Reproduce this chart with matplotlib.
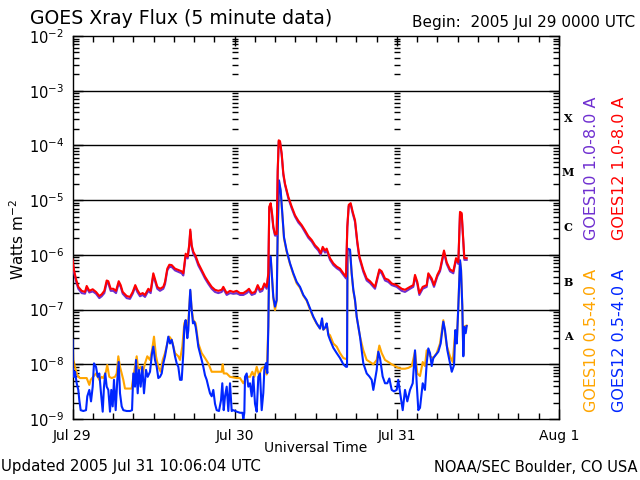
import matplotlib
matplotlib.use("Agg")
import matplotlib.pyplot as plt
import matplotlib.transforms as mtransforms
from matplotlib.ticker import FixedLocator, FixedFormatter, NullFormatter
import numpy as np

# ---------------- data (hours since 2005 Jul 29 00:00 UTC) ----------------
long_hours = [0.00, 0.22, 0.52, 0.86, 1.36, 1.85, 2.10, 2.49, 2.99, 3.48, 3.97, 4.32, 4.71, 5.06, 5.30,
              5.65, 6.04, 6.44, 6.84, 7.13, 7.43, 8.02, 8.51, 8.91, 9.29, 9.59, 9.99, 10.39, 10.73, 11.22,
              11.57, 11.96, 12.25, 12.55, 12.95, 13.44, 13.69, 14.03, 14.33, 14.68, 15.17, 15.66, 16.16,
              16.40, 16.75, 17.05, 17.29, 17.43, 17.64, 17.88, 18.23, 18.62, 19.12, 19.61, 20.10, 20.60,
              21.09, 21.58, 22.08, 22.32, 22.82, 23.31, 23.80, 24.30, 24.79, 25.28, 25.78, 26.12, 26.52,
              27.01, 27.41, 27.75, 28.09, 28.39, 28.74, 28.98, 29.12, 29.33, 29.53, 29.72, 29.97, 30.22,
              30.37, 30.52, 30.71, 30.96, 31.20, 31.45, 31.94, 32.44, 32.93, 33.42, 33.92, 34.41, 34.90,
              35.40, 35.89, 36.38, 36.73, 37.03, 37.37, 37.62, 38.11, 38.60, 39.10, 39.59, 40.08, 40.48,
              40.67, 40.88, 41.17, 41.47, 41.81, 42.15, 42.45, 43.04, 43.54, 44.03, 44.77, 45.41, 45.76,
              46.25, 46.74, 47.24, 47.98, 48.72, 49.21, 49.95, 50.44, 50.69, 51.03, 51.33, 51.83, 52.42,
              52.66, 53.16, 53.50, 53.99, 54.39, 54.98, 55.38, 55.87, 56.36, 56.76, 57.10, 57.35, 57.60,
              57.84, 57.99, 58.34]

goes12_long = [8.3e-7, 5.3e-7, 3.6e-7, 2.6e-7, 2.2e-7, 2.1e-7, 2.7e-7, 2.2e-7, 2.35e-7, 2.1e-7, 1.77e-7,
               1.9e-7, 2.2e-7, 3.4e-7, 3.3e-7, 2.4e-7, 2.4e-7, 2.2e-7, 3.3e-7, 2.8e-7, 2.1e-7, 1.77e-7,
               1.7e-7, 2.1e-7, 2.8e-7, 2.3e-7, 1.9e-7, 2.0e-7, 1.85e-7, 2.4e-7, 2.2e-7, 4.6e-7, 3.5e-7,
               2.6e-7, 2.4e-7, 2.6e-7, 3.2e-7, 5.6e-7, 6.6e-7, 6.5e-7, 5.6e-7, 5.3e-7, 5.0e-7, 4.6e-7,
               1.05e-6, 9.3e-7, 1.6e-6, 2.9e-6, 1.5e-6, 1.14e-6, 9.5e-7, 7.0e-7, 5.3e-7, 4.0e-7, 3.2e-7,
               2.6e-7, 2.3e-7, 2.2e-7, 2.3e-7, 2.6e-7, 2.0e-7, 2.2e-7, 2.1e-7, 2.2e-7, 2.0e-7, 2.0e-7,
               2.2e-7, 2.4e-7, 2.0e-7, 2.1e-7, 2.8e-7, 2.3e-7, 2.4e-7, 3.0e-7, 2.6e-7, 4.6e-7, 7.6e-6,
               8.8e-6, 5.8e-6, 3.3e-6, 2.4e-6, 2.4e-6, 3.5e-5, 1.24e-4, 1.2e-4, 7.1e-5, 3.1e-5, 2.0e-5,
               1.15e-5, 7.6e-6, 5.3e-6, 4.2e-6, 3.5e-6, 2.8e-6, 2.2e-6, 1.87e-6, 1.5e-6, 1.3e-6, 1.07e-6,
               1.4e-6, 1.2e-6, 1.3e-6, 8.7e-7, 7.0e-7, 6.1e-7, 5.6e-7, 4.6e-7, 4.0e-7, 3.3e-6, 8.2e-6,
               8.8e-6, 6.1e-6, 4.3e-6, 1.75e-6, 9.5e-7, 5.3e-7, 3.7e-7, 3.3e-7, 2.6e-7, 5.4e-7, 5.0e-7,
               3.7e-7, 3.5e-7, 3.0e-7, 2.8e-7, 2.4e-7, 2.3e-7, 2.6e-7, 2.8e-7, 4.3e-7, 3.2e-7, 2.0e-7,
               2.6e-7, 2.8e-7, 4.6e-7, 3.7e-7, 2.8e-7, 4.3e-7, 5.4e-7, 1.2e-6, 7.3e-7, 5.4e-7, 5.0e-7,
               8.7e-7, 7.3e-7, 6.1e-6, 5.8e-6, 1.87e-6, 8.7e-7, 8.7e-7]

goes10_long = [7.7e-7, 4.9e-7, 3.3e-7, 2.4e-7, 2.0e-7, 1.95e-7, 2.5e-7, 2.05e-7, 2.15e-7, 1.95e-7, 1.62e-7,
               1.75e-7, 2.0e-7, 3.1e-7, 3.0e-7, 2.2e-7, 2.2e-7, 2.0e-7, 3.0e-7, 2.6e-7, 1.95e-7, 1.62e-7,
               1.57e-7, 1.95e-7, 2.6e-7, 2.1e-7, 1.75e-7, 1.85e-7, 1.7e-7, 2.2e-7, 2.0e-7, 4.2e-7, 3.2e-7,
               2.4e-7, 2.2e-7, 2.4e-7, 2.9e-7, 5.2e-7, 6.0e-7, 6.0e-7, 5.2e-7, 4.9e-7, 4.6e-7, 4.2e-7,
               9.6e-7, 8.6e-7, 1.5e-6, 2.7e-6, 1.4e-6, 1.05e-6, 8.8e-7, 6.4e-7, 4.9e-7, 3.7e-7, 2.95e-7,
               2.4e-7, 2.1e-7, 2.0e-7, 2.1e-7, 2.4e-7, 1.85e-7, 2.0e-7, 1.95e-7, 2.0e-7, 1.85e-7, 1.85e-7,
               2.0e-7, 2.2e-7, 1.85e-7, 1.95e-7, 2.6e-7, 2.1e-7, 2.2e-7, 2.8e-7, 2.4e-7, 4.3e-7, 7.2e-6,
               8.3e-6, 5.4e-6, 3.1e-6, 2.25e-6, 2.25e-6, 3.3e-5, 1.18e-4, 1.14e-4, 6.7e-5, 2.9e-5, 1.9e-5,
               1.08e-5, 7.1e-6, 5.0e-6, 3.9e-6, 3.3e-6, 2.6e-6, 2.05e-6, 1.75e-6, 1.4e-6, 1.2e-6, 1.0e-6,
               1.3e-6, 1.1e-6, 1.2e-6, 8.1e-7, 6.5e-7, 5.7e-7, 5.2e-7, 4.3e-7, 3.7e-7, 3.1e-6, 7.7e-6,
               8.3e-6, 5.7e-6, 4.0e-6, 1.63e-6, 8.8e-7, 4.9e-7, 3.4e-7, 3.05e-7, 2.4e-7, 5.0e-7, 4.6e-7,
               3.4e-7, 3.2e-7, 2.8e-7, 2.6e-7, 2.2e-7, 2.1e-7, 2.4e-7, 2.6e-7, 4.0e-7, 2.95e-7, 1.85e-7,
               2.4e-7, 2.6e-7, 4.3e-7, 3.4e-7, 2.6e-7, 4.0e-7, 5.0e-7, 1.1e-6, 6.8e-7, 5.0e-7, 4.6e-7,
               8.1e-7, 6.8e-7, 5.7e-6, 5.4e-6, 1.74e-6, 8.1e-7, 8.1e-7]

goes12_short_hours = [0.00, 0.03, 0.22, 0.37, 0.62, 0.86, 1.01, 1.21, 1.60, 2.00, 2.19, 2.49, 2.74, 2.99,
                      3.18, 3.48, 3.73, 3.97, 4.22, 4.47, 4.66, 4.85, 5.06, 5.30, 5.55, 5.74, 5.95, 6.14,
                      6.39, 6.63, 6.84, 7.03, 7.28, 7.52, 8.02, 8.51, 8.81, 9.00, 9.25, 9.40, 9.65, 9.84,
                      10.09, 10.33, 10.58, 10.88, 11.13, 11.47, 11.77, 11.96, 12.21, 12.46, 12.70, 12.95,
                      13.20, 13.44, 13.69, 13.94, 14.18, 14.43, 14.68, 14.92, 15.17, 15.42, 15.66, 15.91,
                      16.16, 16.40, 16.55, 16.75, 16.99, 17.14, 17.29, 17.43, 17.64, 17.83, 18.03, 18.23,
                      18.43, 18.62, 18.87, 19.12, 19.36, 19.61, 19.86, 20.10, 20.35, 20.60, 20.84, 21.09,
                      21.34, 21.68, 21.98, 22.17, 22.38, 22.57, 22.82, 23.06, 23.31, 23.56, 23.80, 24.30,
                      24.79, 25.16, 25.28, 25.43, 25.53, 25.78, 26.02, 26.27, 26.52, 26.76, 27.01, 27.26,
                      27.50, 27.75, 28.00, 28.24, 28.39, 28.64, 28.83, 28.98, 29.12, 29.33, 29.53, 29.72,
                      29.97, 30.22, 30.37, 30.56, 30.81, 31.05, 31.30, 31.69, 32.19, 32.68, 33.18, 33.67,
                      34.16, 34.66, 35.15, 35.64, 36.14, 36.63, 36.93, 37.12, 37.42, 37.62, 37.86, 38.11,
                      38.60, 39.10, 39.59, 40.08, 40.48, 40.63, 40.70, 41.07, 41.32, 41.56, 41.81, 42.06,
                      42.55, 43.04, 43.54, 43.93, 44.28, 44.52, 45.02, 45.26, 45.51, 45.90, 46.25, 46.59,
                      46.89, 47.24, 47.58, 47.98, 48.21, 48.47, 48.87, 49.21, 49.55, 49.95, 50.35, 50.69,
                      50.94, 51.18, 51.43, 51.83, 52.16, 52.42, 52.66, 52.91, 53.16, 53.40, 53.80, 54.14,
                      54.49, 54.88, 55.13, 55.48, 55.77, 56.13, 56.47, 56.66, 56.87, 57.10, 57.35, 57.50,
                      57.69, 57.84, 57.99, 58.19, 58.34]

goes12_short = [2.8e-8, 9e-9, 5.9e-9, 7.3e-9, 4.5e-9, 3.4e-9, 2.2e-9, 1.45e-9, 1.4e-9, 1.45e-9, 2.6e-9,
                3.4e-9, 2.1e-9, 3.9e-9, 1.04e-8, 9e-9, 5.9e-9, 6.8e-9, 2.95e-9, 1.36e-9, 3.9e-9, 6.8e-9,
                3.9e-9, 3.4e-9, 1.36e-9, 3.4e-9, 1.7e-9, 5.2e-9, 1.45e-9, 5.2e-9, 1.1e-8, 2.95e-9, 1.7e-9,
                1.45e-9, 1.4e-9, 1.4e-9, 1.45e-9, 6.8e-9, 3.9e-9, 1.2e-8, 2.95e-9, 7.9e-9, 3.9e-9, 9e-9,
                2.95e-9, 7.9e-9, 5.9e-9, 7.3e-9, 1.6e-8, 2.1e-8, 1.2e-8, 9e-9, 5.6e-9, 5.9e-9, 6.8e-9,
                1.04e-8, 1.4e-8, 2.1e-8, 3.2e-8, 2.4e-8, 2.8e-8, 2.1e-8, 1.4e-8, 1.04e-8, 9e-9, 5.2e-9,
                5.2e-9, 1.6e-8, 4.8e-8, 6.4e-8, 3.0e-8, 4.2e-8, 1.13e-7, 2.3e-7, 9.8e-8, 5.6e-8, 6.0e-8,
                4.8e-8, 3.2e-8, 2.1e-8, 1.6e-8, 1.2e-8, 9e-9, 6.3e-9, 5.2e-9, 3.9e-9, 2.95e-9, 2.6e-9,
                3.4e-9, 1.9e-9, 1.45e-9, 1.4e-9, 2.2e-9, 4.5e-9, 1.45e-9, 2.6e-9, 3.9e-9, 1.4e-9, 4.5e-9,
                1.4e-9, 1.45e-9, 1.36e-9, 1.3e-9, 1.3e-9, 1.0e-9, 1.3e-9, 5.9e-9, 6.8e-9, 3.9e-9, 4.5e-9,
                2.6e-9, 5.9e-9, 1.9e-9, 1.36e-9, 5.9e-9, 6.8e-9, 1.45e-9, 3.0e-9, 7.9e-9, 1.05e-8, 6.9e-9,
                4.8e-8, 9.3e-7, 9.3e-7, 4.0e-7, 1.7e-7, 1.13e-7, 1.5e-7, 2.8e-6, 2.3e-5, 1.5e-5, 5.8e-6,
                2.1e-6, 1.2e-6, 7.0e-7, 4.6e-7, 3.2e-7, 2.6e-7, 1.85e-7, 1.5e-7, 1.05e-7, 7.4e-8, 5.6e-8,
                4.5e-8, 6.9e-8, 4.3e-8, 4.8e-8, 5.6e-8, 3.4e-8, 2.8e-8, 2.0e-8, 1.6e-8, 1.3e-8, 1.0e-8,
                9e-9, 9e-9, 1.3e-6, 1.25e-6, 4.6e-7, 2.3e-7, 1.5e-7, 7.4e-8, 3.2e-8, 1.04e-8, 6.8e-9,
                6.0e-9, 5.2e-9, 3.4e-9, 7.9e-9, 1.7e-8, 1.3e-8, 6.0e-9, 4.5e-9, 4.5e-9, 5.5e-9, 3.4e-9,
                3.2e-9, 3.4e-9, 5.2e-9, 3.1e-9, 1.45e-9, 3.4e-9, 2.1e-9, 3.4e-9, 4.5e-9, 1.8e-8, 4.5e-9,
                1.45e-9, 1.6e-9, 4.5e-9, 3.4e-9, 1.04e-8, 1.95e-8, 1.6e-8, 9.3e-9, 1.3e-8, 1.5e-8, 1.7e-8,
                2.4e-8, 6.0e-8, 4.2e-8, 1.8e-8, 1.2e-8, 7.3e-9, 9.7e-9, 4.2e-8, 2.4e-8, 1.13e-7, 8.0e-7,
                5.3e-7, 1.13e-7, 1.4e-8, 4.8e-8, 3.7e-8, 5.0e-8]

goes10_short_hours = [0.00, 0.12, 0.37, 0.62, 0.86, 1.11, 2.10, 2.49, 2.69, 3.07, 3.48, 3.97, 4.32, 4.55,
                      4.95, 5.14, 5.44, 5.80, 6.29, 6.54, 6.78, 7.03, 7.28, 7.52, 7.77, 8.26, 8.76, 9.00,
                      9.25, 9.50, 9.74, 10.09, 10.39, 10.73, 11.07, 11.47, 11.77, 12.06, 12.36, 12.70,
                      13.05, 13.35, 13.69, 14.03, 14.33, 14.68, 15.17, 15.66, 15.91, 16.25, 16.55, 16.75,
                      17.05, 17.29, 17.43, 17.64, 17.88, 18.23, 18.62, 19.12, 19.61, 20.10, 20.60, 22.08,
                      22.23, 22.38, 22.82, 23.31, 24.30, 24.79, 25.28, 25.78, 26.27, 26.61, 26.91, 27.26,
                      27.60, 28.00, 28.39, 28.74, 28.98, 29.12, 29.33, 29.53, 29.72, 29.97, 30.22, 30.37,
                      30.56, 30.81, 31.05, 31.30, 31.69, 32.19, 32.68, 33.18, 33.67, 34.16, 34.66, 35.15,
                      35.64, 36.14, 36.63, 36.93, 37.12, 37.42, 37.62, 37.86, 38.11, 38.60, 39.10, 39.59,
                      40.08, 40.48, 40.63, 40.70, 41.07, 41.32, 41.56, 41.81, 42.06, 42.55, 43.04, 43.54,
                      44.03, 44.52, 45.02, 45.41, 45.76, 46.25, 46.74, 47.24, 47.73, 48.21, 48.72, 49.21,
                      49.71, 50.21, 50.69, 51.03, 51.43, 51.83, 52.16, 52.42, 52.91, 53.40, 53.90, 54.39,
                      54.88, 55.38, 55.87, 56.27, 56.66, 56.87, 57.10, 57.35, 57.50, 57.69, 57.84, 57.99,
                      58.34]

goes10_short = [3.2e-8, 1.2e-8, 9e-9, 6.8e-9, 5.9e-9, 5.6e-9, 5.6e-9, 4.2e-9, 5.2e-9, 5.9e-9, 6.8e-9,
                5.2e-9, 5.9e-9, 5.6e-9, 7.3e-9, 9.7e-9, 5.9e-9, 5.6e-9, 5.9e-9, 6.8e-9, 1.4e-8, 9e-9,
                6.8e-9, 5.2e-9, 3.6e-9, 3.6e-9, 3.6e-9, 5.9e-9, 9e-9, 1.4e-8, 7.9e-9, 9e-9, 6.8e-9,
                1.04e-8, 1.4e-8, 1.2e-8, 1.8e-8, 3.2e-8, 1.4e-8, 9e-9, 7.3e-9, 1.2e-8, 1.6e-8, 2.4e-8,
                3.2e-8, 2.8e-8, 1.6e-8, 1.4e-8, 1.2e-8, 2.1e-8, 5.6e-8, 6.4e-8, 4.2e-8, 1.13e-7, 2.2e-7,
                1.0e-7, 6.4e-8, 5.6e-8, 2.4e-8, 1.6e-8, 1.3e-8, 1.04e-8, 7.3e-9, 7.3e-9, 1.0e-8, 6.8e-9,
                6.8e-9, 5.9e-9, 5.6e-9, 5.6e-9, 4.5e-9, 5.9e-9, 5.9e-9, 7.3e-9, 5.9e-9, 9e-9, 6.3e-9,
                8.5e-9, 9e-9, 6.5e-9, 5.0e-8, 9.0e-7, 9.0e-7, 3.8e-7, 1.6e-7, 9.8e-8, 1.45e-7, 2.7e-6,
                2.2e-5, 1.45e-5, 5.6e-6, 2.0e-6, 1.15e-6, 6.8e-7, 4.4e-7, 3.0e-7, 2.5e-7, 1.8e-7, 1.45e-7,
                1.0e-7, 7.2e-8, 5.5e-8, 4.5e-8, 6.5e-8, 4.3e-8, 4.6e-8, 5.4e-8, 3.6e-8, 3.4e-8, 2.4e-8,
                2.1e-8, 1.6e-8, 1.3e-8, 1.25e-8, 1.3e-8, 1.25e-6, 1.2e-6, 4.4e-7, 2.2e-7, 1.45e-7, 7.4e-8,
                3.2e-8, 1.8e-8, 1.2e-8, 1.1e-8, 1.0e-8, 1.2e-8, 2.2e-8, 1.6e-8, 1.2e-8, 1.1e-8, 1.0e-8,
                9.3e-9, 8.6e-9, 8.3e-9, 8.3e-9, 8.6e-9, 9.3e-9, 1.7e-8, 6.8e-9, 6.1e-9, 1.1e-8, 9.3e-9,
                1.8e-8, 1.4e-8, 1.3e-8, 1.6e-8, 2.4e-8, 6.4e-8, 2.2e-8, 1.4e-8, 1.1e-8, 4.2e-8, 2.5e-8,
                1.15e-7, 7.6e-7, 5.4e-7, 1.15e-7, 1.5e-8, 4.9e-8, 5.1e-8]

day_ticks = [0, 24, 48, 72]
day_labels = ["Jul 29", "Jul 30", "Jul 31", "Aug 1"]
decades = [-9, -8, -7, -6, -5, -4, -3, -2]
flare_classes = ["A", "B", "C", "M", "X"]
flare_exponents = [-7.5, -6.5, -5.5, -4.5, -3.5]

C_PURPLE = "#6f2fd0"
C_RED = "#ff0000"
C_ORANGE = "#ffa500"
C_BLUE = "#0026ff"

# ---------------- figure ----------------
fig = plt.figure(figsize=(6.4, 4.8), dpi=100)
fig.patch.set_facecolor("white")
ax = fig.add_axes([72.5 / 640, 1 - 419 / 480, 486.5 / 640, 383 / 480])
ax.set_yscale("log")
ax.set_xlim(0, 72)
ax.set_ylim(1e-9, 1e-2)

# horizontal decade lines
for d in decades[1:-1]:
    ax.axhline(10.0 ** d, color="black", lw=1.0, zorder=1)

# minor log-tick stacks along day boundaries
minor_vals = [m * 10.0 ** d for d in decades[:-1] for m in range(2, 10)]
for day in day_ticks[1:3]:
    ax.plot([day] * len(minor_vals), minor_vals, ls="none", marker="_", ms=5,
            mew=1.0, color="black", zorder=1)

lw = 1.5
ax.plot(goes10_short_hours, goes10_short, color=C_ORANGE, lw=lw, zorder=2)
ax.plot(goes12_short_hours, goes12_short, color=C_BLUE, lw=lw, zorder=3)
ax.plot(long_hours, goes10_long, color=C_PURPLE, lw=lw, zorder=4)
ax.plot(long_hours, goes12_long, color=C_RED, lw=lw, zorder=5)

# axes ticks
ax.yaxis.set_major_locator(FixedLocator([10.0 ** d for d in decades]))
ax.yaxis.set_major_formatter(FixedFormatter(["$10^{%d}$" % d for d in decades]))
ax.yaxis.set_minor_locator(FixedLocator(minor_vals))
ax.yaxis.set_minor_formatter(NullFormatter())
ax.set_xticks(day_ticks)
ax.set_xticklabels(day_labels)
ax.set_xticks(np.arange(0, 73, 3), minor=True)
ax.tick_params(which="both", direction="in", top=True, right=True, color="black", width=1.0)
ax.tick_params(which="major", length=7)
ax.tick_params(which="minor", length=4.5)
ax.tick_params(axis="y", which="major", labelsize=10.5, pad=6)
ax.tick_params(axis="x", which="major", labelsize=10, pad=7)
for s in ax.spines.values():
    s.set_linewidth(1.0)

# flare class letters
trans = mtransforms.blended_transform_factory(ax.transAxes, ax.transData)
for lab, e in zip(flare_classes, flare_exponents):
    ax.text(1.0185, 10.0 ** e, lab, transform=trans, ha="center", va="center",
            fontsize=8, fontweight="bold", family="DejaVu Serif", clip_on=False)

# texts
fig.text(30 / 640, 1 - 18 / 480, "GOES Xray Flux (5 minute data)", fontsize=13.6,
         ha="left", va="center")
fig.text(412 / 640, 1 - 22 / 480, "Begin:  2005 Jul 29 0000 UTC", fontsize=11,
         ha="left", va="center")
fig.text(18 / 640, 1 - 240 / 480, "Watts m$^{-2}$", fontsize=11, rotation=90,
         ha="center", va="center")
fig.text(316 / 640, 1 - 448 / 480, "Universal Time", fontsize=10, ha="center", va="center")
fig.text(1 / 640, 1 - 467 / 480, "Updated 2005 Jul 31 10:06:04 UTC", fontsize=10.8,
         ha="left", va="center")
fig.text(638 / 640, 1 - 467 / 480, "NOAA/SEC Boulder, CO USA", fontsize=10.5,
         ha="right", va="center")

fig.text(592 / 640, 1 - 168 / 480, "GOES10 1.0-8.0 A", color=C_PURPLE, fontsize=11.5,
         rotation=90, ha="center", va="center")
fig.text(620 / 640, 1 - 168 / 480, "GOES12 1.0-8.0 A", color=C_RED, fontsize=11.5,
         rotation=90, ha="center", va="center")
fig.text(592 / 640, 1 - 340 / 480, "GOES10 0.5-4.0 A", color=C_ORANGE, fontsize=11.5,
         rotation=90, ha="center", va="center")
fig.text(620 / 640, 1 - 340 / 480, "GOES12 0.5-4.0 A", color=C_BLUE, fontsize=11.5,
         rotation=90, ha="center", va="center")

fig.savefig("out.png", dpi=100, facecolor="white")
